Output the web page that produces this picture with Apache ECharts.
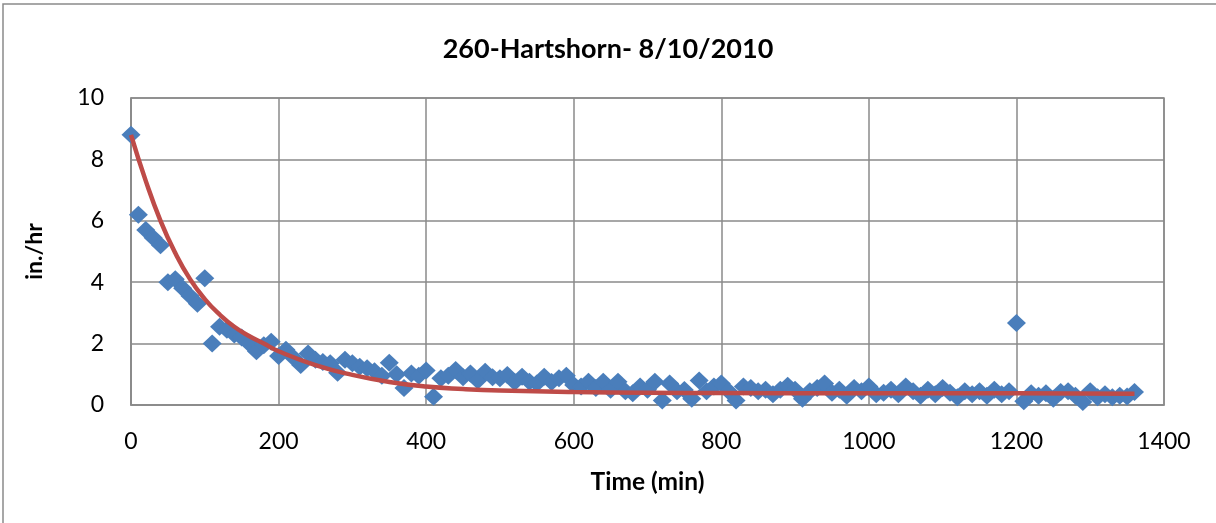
<!DOCTYPE html>
<html><head><meta charset="utf-8">
<script src="https://cdn.jsdelivr.net/npm/echarts@6/dist/echarts.min.js"></script>
<style>html,body{margin:0;padding:0;background:#fff;}#c{width:1216px;height:523px;}</style>
</head><body><div id="c"></div>
<script>
const titleText = '260-Hartshorn- 8/10/2010';
const xName = 'Time (min)';
const yName = 'in./hr';
const times = [0,10,20,30,40,50,60,70,80,90,100,110,120,130,140,150,160,170,180,190,200,210,220,230,240,250,260,270,280,290,300,310,320,330,340,350,360,370,380,390,400,410,420,430,440,450,460,470,480,490,500,510,520,530,540,550,560,570,580,590,600,610,620,630,640,650,660,670,680,690,700,710,720,730,740,750,760,770,780,790,800,810,820,830,840,850,860,870,880,890,900,910,920,930,940,950,960,970,980,990,1000,1010,1020,1030,1040,1050,1060,1070,1080,1090,1100,1110,1120,1130,1140,1150,1160,1170,1180,1190,1200,1210,1220,1230,1240,1250,1260,1270,1280,1290,1300,1310,1320,1330,1340,1350,1360];
const rates = [8.8,6.2,5.7,5.45,5.2,4.0,4.1,3.8,3.55,3.3,4.13,2.0,2.55,2.45,2.3,2.2,2.0,1.75,1.95,2.06,1.6,1.8,1.55,1.3,1.68,1.47,1.4,1.36,1.05,1.47,1.36,1.25,1.2,1.1,0.95,1.38,1.0,0.55,1.03,0.95,1.12,0.27,0.87,0.95,1.14,0.9,1.03,0.8,1.08,0.9,0.87,0.98,0.75,0.92,0.76,0.7,0.92,0.75,0.87,0.95,0.65,0.6,0.76,0.55,0.76,0.5,0.76,0.45,0.38,0.6,0.5,0.76,0.15,0.7,0.45,0.49,0.2,0.8,0.45,0.6,0.7,0.45,0.15,0.6,0.55,0.45,0.5,0.35,0.5,0.63,0.5,0.2,0.45,0.55,0.7,0.4,0.5,0.3,0.55,0.45,0.6,0.35,0.4,0.5,0.35,0.6,0.45,0.3,0.5,0.35,0.55,0.4,0.25,0.45,0.35,0.45,0.3,0.5,0.35,0.45,2.67,0.12,0.38,0.3,0.38,0.2,0.42,0.45,0.3,0.1,0.45,0.25,0.35,0.25,0.3,0.28,0.42];
const fitTimes = [0,20,40,60,80,100,120,140,160,180,200,250,300,350,400,450,500,600,700,800,1000,1200,1360];
const fitRates = [8.8,7.3,6.0,4.95,4.1,3.45,2.95,2.55,2.25,2.0,1.75,1.3,0.98,0.75,0.6,0.52,0.47,0.42,0.4,0.39,0.38,0.38,0.37];
const xTicks = [0,200,400,600,800,1000,1200,1400];
const yTicks = [0,2,4,6,8,10];

const chart = echarts.init(document.getElementById('c'), null, {renderer:'canvas'});
const font = "Lato,'Open Sans',sans-serif";
const gridColor = '#8a8a8a';
chart.setOption({
  animation:false,
  backgroundColor:'#fff',
  graphic:[{type:'rect', shape:{x:3,y:4,width:1260,height:560}, style:{fill:'none', stroke:'#8a8a8a', lineWidth:1.5}, silent:true}],
  title:{text:titleText, left:'center', top:31, textStyle:{fontFamily:font, fontWeight:'bold', fontSize:27, color:'#000'}},
  grid:{left:131, right:52, top:98, bottom:118, show:true, borderColor:gridColor, borderWidth:1.5},
  xAxis:{type:'value', min:xTicks[0], max:xTicks[xTicks.length-1], interval:xTicks[1]-xTicks[0],
    name:xName, nameLocation:'middle', nameGap:65,
    nameTextStyle:{fontFamily:font, fontWeight:'bold', fontSize:24.5, color:'#000'},
    axisLine:{lineStyle:{color:gridColor, width:1.5}}, axisTick:{show:false},
    axisLabel:{fontFamily:font, fontSize:23, color:'#000', margin:25, formatter:(v)=>String(v)},
    splitLine:{show:true, lineStyle:{color:gridColor, width:1.5}}},
  yAxis:{type:'value', min:yTicks[0], max:yTicks[yTicks.length-1], interval:yTicks[1]-yTicks[0],
    name:yName, nameLocation:'middle', nameGap:85, nameRotate:90,
    nameTextStyle:{fontFamily:font, fontWeight:'bold', fontSize:23, color:'#000'},
    axisLine:{show:true, lineStyle:{color:gridColor, width:1.5}}, axisTick:{show:false},
    axisLabel:{fontFamily:font, fontSize:23, color:'#000', margin:27, formatter:(v)=>String(v)},
    splitLine:{show:true, lineStyle:{color:gridColor, width:1.5}}},
  series:[
    {type:'scatter', data:times.map((t,i)=>[t,rates[i]]), symbol:'diamond', symbolSize:[19,18],
      itemStyle:{color:'#4A7EBB', opacity:1}, z:2},
    {type:'line', data:fitTimes.map((t,i)=>[t,fitRates[i]]), smooth:true, showSymbol:false, symbol:'none',
      lineStyle:{color:'#BE4B48', width:4.5}, z:3}
  ]
});
</script></body></html>
